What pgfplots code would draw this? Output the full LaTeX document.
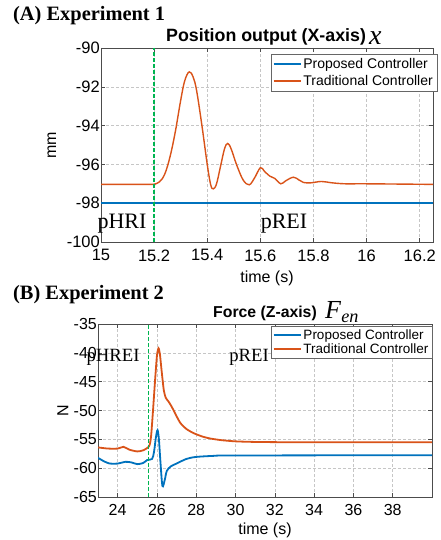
\documentclass[border=0pt]{standalone}
\usepackage{fontspec}
\setmainfont{Liberation Serif}
\setsansfont{Liberation Sans}
\usepackage{pgfplots}
\pgfplotsset{compat=1.18}

\definecolor{mblue}{RGB}{0,114,189}
\definecolor{morange}{RGB}{217,83,25}
\definecolor{mgreen}{RGB}{0,180,80}

\pgfplotsset{
  matlab/.style={
    scale only axis,
    grid=major,
    major grid style={dash pattern=on 3pt off 2pt, gray!45, line width=0.5pt},
    axis line style={black!70, line width=0.6pt},
    tick style={black!70, line width=0.5pt},
    major tick length=4pt,
    /pgf/number format/assume math mode=true,
    ticklabel style={font=\sffamily\fontsize{16.5}{16.5}\selectfont},
    yticklabel style={inner sep=1pt},
    xticklabel style={yshift=-4pt},
    label style={font=\sffamily\fontsize{16}{16}\selectfont},
    legend cell align=left,
    legend image code/.code={\draw[#1] (0pt,0pt) -- (27pt,0pt);},
  }
}

\begin{document}
\begin{tikzpicture}
\useasboundingbox (0,0) rectangle (440pt,-540pt);

% ---- (A) Experiment 1
\begin{axis}[matlab,
    at={(101pt,-48pt)}, anchor=north west,
    width=332pt, height=194pt,
    xmin=15, xmax=16.25, ymin=-100, ymax=-90,
    xtick={15,15.2,...,16.21}, ytick={-100,-98,...,-90},
    xticklabels={15,15.2,15.4,15.6,15.8,16,16.2},
    xlabel={time (s)}, ylabel={mm},
    ylabel style={at={(axis description cs:-0.148,0.5)}, anchor=center},
    xlabel style={at={(axis description cs:0.5,0)}, anchor=center, yshift=-36pt},
    legend style={at={(axis description cs:1.012,0.97)}, anchor=north east,
      draw=black!60, fill=white, inner sep=2pt, row sep=1.5pt,
      font=\sffamily\fontsize{14}{14}\selectfont},
  ]
  \addplot[mblue, line width=1.5pt] coordinates {(15,-98) (16.25,-98)};
  \addlegendentry{Proposed Controller}
  \addplot[morange, line width=1.4pt, smooth, tension=0.6] coordinates {
    (15,-97.03) (15.19,-97.03) (15.20,-97.02) (15.22,-96.9) (15.24,-96.5)
    (15.26,-95.6) (15.28,-94.3) (15.30,-92.7) (15.315,-91.7) (15.332,-91.23)
    (15.347,-91.5) (15.36,-92.2) (15.38,-94.0) (15.40,-96.0) (15.413,-97.05)
    (15.423,-97.26) (15.435,-97.0) (15.45,-96.1) (15.465,-95.2) (15.477,-94.92)
    (15.49,-95.2) (15.51,-96.0) (15.535,-96.8) (15.558,-97.05) (15.578,-96.7)
    (15.60,-96.17) (15.615,-96.35) (15.635,-96.6) (15.654,-96.72) (15.677,-97.0)
    (15.695,-96.85) (15.724,-96.66) (15.745,-96.8) (15.762,-96.93) (15.79,-96.95)
    (15.83,-96.88) (15.87,-96.95) (15.92,-97.0) (16.0,-97.0) (16.25,-97.03)
  };
  \addlegendentry{Traditional Controller}
  \addplot[mgreen, dash pattern=on 4pt off 2pt, line width=1.4pt, forget plot] coordinates {(15.2,-100) (15.2,-90)};
\end{axis}

\node[anchor=west, font=\bfseries\fontsize{20.4}{20.4}\selectfont, inner sep=0pt] at (13pt,-16pt) {(A) Experiment 1};
\node[anchor=west, font=\sffamily\bfseries\fontsize{17.8}{17.8}\selectfont, inner sep=0pt] at (166pt,-37pt) {Position output (X-axis)};
\node[anchor=west, font=\itshape\fontsize{28}{28}\selectfont, inner sep=0pt] at (369pt,-38pt) {x};
\node[font=\fontsize{22}{22}\selectfont, inner sep=0pt] at (122pt,-224pt) {pHRI};
\node[font=\fontsize{22}{22}\selectfont, inner sep=0pt] at (284pt,-224pt) {pREI};

% ---- (B) Experiment 2
\begin{axis}[matlab,
    at={(98pt,-324pt)}, anchor=north west,
    width=334pt, height=173pt,
    xmin=23, xmax=40, ymin=-65, ymax=-35,
    xtick={24,26,...,38}, ytick={-65,-60,...,-35},
    xlabel={time (s)}, ylabel={N},
    ylabel style={at={(axis description cs:-0.105,0.5)}, anchor=center},
    xlabel style={at={(axis description cs:0.5,0)}, anchor=center, yshift=-33pt},
    ticklabel style={font=\sffamily\fontsize{16}{16}\selectfont},
    legend style={at={(axis description cs:1,0.99)}, anchor=north east,
      draw=black!60, fill=white, inner sep=1.5pt, row sep=-1pt,
      font=\sffamily\fontsize{13.5}{13.5}\selectfont},
  ]
  \addplot[mblue, line width=1.8pt, smooth, tension=0.5] coordinates {
    (23,-58.2) (23.3,-58.8) (23.6,-59.2) (24,-59.2) (24.4,-58.9) (24.7,-59.0)
    (25,-59.3) (25.3,-59.1) (25.5,-58.6) (25.75,-58.4) (25.85,-57.2) (25.95,-54.6)
    (26.03,-53.4) (26.1,-55.0) (26.18,-59.0) (26.28,-63.1) (26.4,-62.0) (26.5,-60.5)
    (26.7,-59.7) (27,-59.2) (27.5,-58.4) (28,-58.05) (29,-57.85) (30,-57.8) (40,-57.75)
  };
  \addlegendentry{Proposed Controller}
  \addplot[morange, line width=1.8pt, smooth, tension=0.4] coordinates {
    (23,-56.4) (23.5,-56.6) (24,-56.6) (24.3,-56.3) (24.6,-56.8) (25,-57.1)
    (25.3,-56.9) (25.6,-56.2) (25.7,-54.5) (25.8,-50) (25.9,-45) (26.0,-40.5)
    (26.08,-39.2) (26.15,-40.2) (26.25,-43.5) (26.35,-46.5) (26.45,-47.8) (26.6,-48.5)
    (26.76,-49.4) (27.0,-51) (27.2,-52.2) (27.5,-53.2) (27.85,-53.9) (28.3,-54.5)
    (28.7,-54.85) (29.3,-55.15) (30,-55.35) (31,-55.45) (33,-55.5) (40,-55.5)
  };
  \addlegendentry{Traditional Controller}
  \addplot[mgreen, dash pattern=on 4pt off 2pt, line width=1.4pt, forget plot] coordinates {(25.58,-65) (25.58,-35)};
\end{axis}

\node[anchor=west, font=\bfseries\fontsize{20.4}{20.4}\selectfont, inner sep=0pt] at (13pt,-295pt) {(B) Experiment 2};
\node[anchor=west, font=\sffamily\bfseries\fontsize{15.8}{15.8}\selectfont, inner sep=0pt] at (213pt,-313pt) {Force (Z-axis)};
\node[anchor=west, font=\fontsize{26}{26}\selectfont, inner sep=0pt] at (325pt,-312pt) {\textit{F}\textsubscript{\textit{en}}};
\node[font=\fontsize{18.7}{18.7}\selectfont, inner sep=0pt] at (113pt,-357pt) {pHREI};
\node[font=\fontsize{18.7}{18.7}\selectfont, inner sep=0pt] at (249pt,-357pt) {pREI};
\end{tikzpicture}
\end{document}
